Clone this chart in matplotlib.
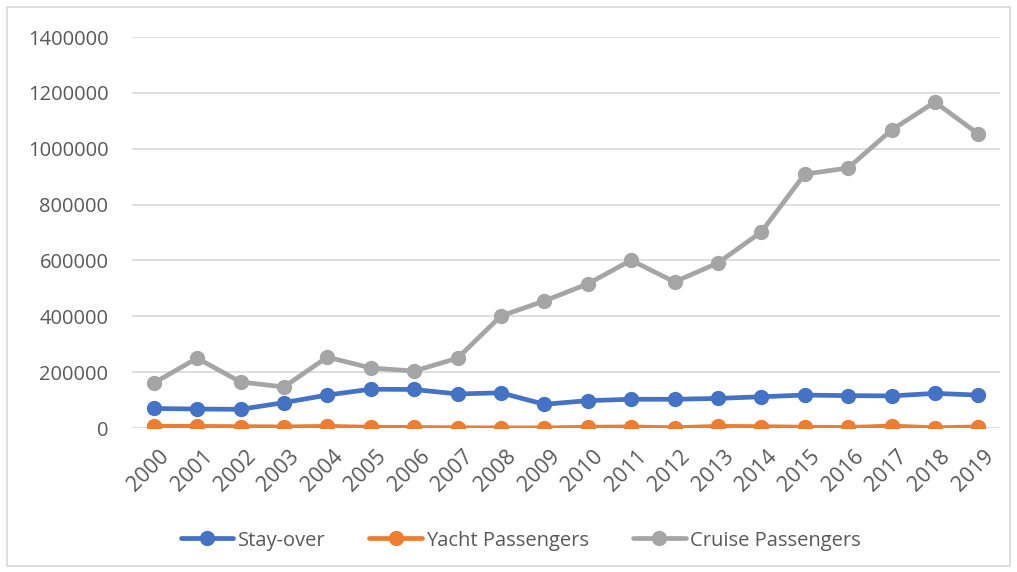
import matplotlib
matplotlib.use("Agg")
import matplotlib.pyplot as plt
from matplotlib.patches import Rectangle
from matplotlib.transforms import ScaledTranslation

years = [str(y) for y in range(2000, 2020)]
stay_over = [70000, 68000, 67000, 91000, 118000, 139000, 138000, 122000, 126000, 85000,
             98000, 103000, 103000, 106000, 112000, 118000, 116000, 115000, 124000, 118000]
yacht = [6000, 6000, 5000, 4000, 6000, 3000, 2000, 1000, 500, 500,
         3000, 4000, 1000, 6000, 5000, 3000, 2000, 7000, 1000, 4000]
cruise = [161000, 250000, 165000, 147000, 254000, 215000, 204000, 250000, 401000, 455000,
          516000, 601000, 523000, 591000, 702000, 909000, 931000, 1067000, 1167000, 1053000]
yticks = [0, 200000, 400000, 600000, 800000, 1000000, 1200000, 1400000]

plt.rcParams['font.family'] = ['Open Sans', 'DejaVu Sans']
fig = plt.figure(figsize=(10.17, 5.72), dpi=100)
ax = fig.add_axes([0.1298, 0.2517, 0.8535, 0.6836])

x = list(range(len(years)))
series = [("Stay-over", stay_over, "#4472C4"),
          ("Yacht Passengers", yacht, "#ED7D31"),
          ("Cruise Passengers", cruise, "#A5A5A5")]
for name, vals, col in series:
    ax.plot(x, vals, color=col, lw=3.4, marker='o', ms=10, label=name,
            solid_capstyle='round', zorder=3)

ax.set_xlim(-0.5, len(years) - 0.5)
ax.set_ylim(0, 1400000)
ax.set_yticks(yticks)
ax.set_yticklabels([str(v) for v in yticks])
ax.set_xticks(x)
ax.set_xticklabels(years, rotation=45, ha='right', va='top', rotation_mode='anchor')
ax.tick_params(axis='y', length=0, pad=17, labelsize=14.5, labelcolor='#595959')
ax.tick_params(axis='x', length=0, pad=13, labelsize=15.5, labelcolor='#595959')
offset = ScaledTranslation(5 / 100, 0, fig.dpi_scale_trans)
for lbl in ax.get_xticklabels():
    lbl.set_transform(lbl.get_transform() + offset)
ax.grid(axis='y', color='#D9D9D9', lw=1.2, zorder=0)
for s in ax.spines.values():
    s.set_visible(False)

leg = fig.legend(loc='center', bbox_to_anchor=(0.512, 0.055), ncol=3, frameon=False,
                 fontsize=14.5, handlelength=2.6, columnspacing=2.2, handletextpad=0.2)
for t in leg.get_texts():
    t.set_color('#595959')

fig.patches.append(Rectangle((0.007, 0.01), 0.986, 0.978, transform=fig.transFigure,
                             fill=False, edgecolor='#D9D9D9', lw=1.2))
fig.savefig("out.png", dpi=100)
